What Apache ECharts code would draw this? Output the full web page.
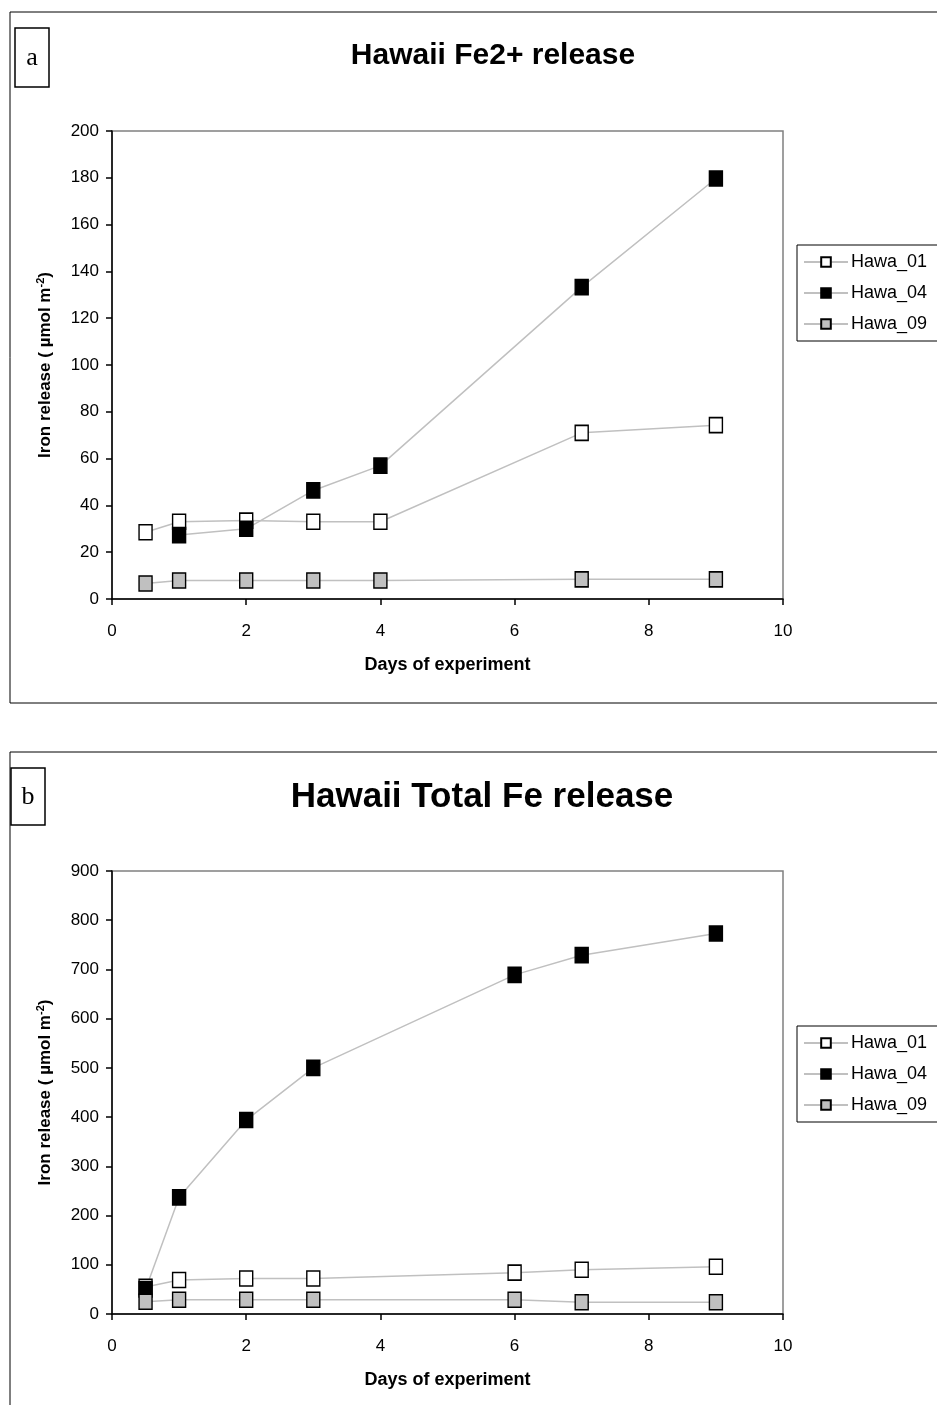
<!DOCTYPE html>
<html><head><meta charset="utf-8">
<script src="https://cdn.jsdelivr.net/npm/echarts@6/dist/echarts.min.js"></script>
<style>html,body{margin:0;padding:0;background:#fff}#c{width:937px;height:1405px}</style>
</head><body><div id="c"></div>
<script>
// Panel a: Fe2+ release
const daysA01 = [0.5, 1, 2, 3, 4, 7, 9];
const feA_Hawa01 = [28.5, 33, 33.5, 33, 33, 71, 74.3];
const daysA04 = [1, 2, 3, 4, 7, 9];
const feA_Hawa04 = [27.3, 30, 46.4, 57, 133.3, 179.7];
const daysA09 = [0.5, 1, 2, 3, 4, 7, 9];
const feA_Hawa09 = [6.6, 7.9, 7.9, 7.9, 7.9, 8.4, 8.4];
// Panel b: Total Fe release
const daysB = [0.5, 1, 2, 3, 6, 7, 9];
const feB_Hawa01 = [55, 69, 72, 72, 84, 90, 96];
const feB_Hawa04 = [50, 237, 394, 500, 689, 729, 773];
const feB_Hawa09 = [25, 29, 29, 29, 29, 24, 24];
const seriesNames = ['Hawa_01', 'Hawa_04', 'Hawa_09'];
const titleA = 'Hawaii Fe2+ release';
const titleB = 'Hawaii Total Fe release';
const xName = 'Days of experiment';

const pairs = (xs, ys) => xs.map((x, i) => [x, ys[i]]);
const fills = {Hawa_01: '#ffffff', Hawa_04: '#000000', Hawa_09: '#c0c0c0'};
const FONT = 'Liberation Sans, Arial, sans-serif';

function mkSeries(name, data, idx) {
  return {
    name, type: 'line', data, xAxisIndex: idx, yAxisIndex: idx,
    symbol: 'rect', symbolSize: [13, 15],
    lineStyle: {color: '#c0c0c0', width: 1.5},
    itemStyle: {color: fills[name], borderColor: '#000', borderWidth: 1.5},
    emphasis: {disabled: true}, animation: false
  };
}
function mkX(gridIdx) {
  return {
    type: 'value', gridIndex: gridIdx, min: 0, max: 10, interval: 2,
    name: xName, nameLocation: 'middle', nameGap: 57,
    nameTextStyle: {fontFamily: FONT, fontWeight: 'bold', fontSize: 18, color: '#000'},
    axisLine: {show: true, lineStyle: {color: '#000', width: 1.5}},
    axisTick: {show: true, length: 6, lineStyle: {color: '#000', width: 1.5}},
    axisLabel: {fontFamily: FONT, fontSize: 17, color: '#000', margin: 24},
    splitLine: {show: false}
  };
}
function mkY(gridIdx, max, interval) {
  return {
    type: 'value', gridIndex: gridIdx, min: 0, max, interval,
    name: '{a|Iron release ( µmol m}{s|-2}{a|)}', nameLocation: 'middle', nameGap: 57, nameRotate: 90,
    nameTextStyle: {rich: {
      a: {fontFamily: FONT, fontWeight: 'bold', fontSize: 17, color: '#000'},
      s: {fontFamily: FONT, fontWeight: 'bold', fontSize: 11, color: '#000', padding: [0, 0, 9, 0]}
    }},
    axisLine: {show: true, lineStyle: {color: '#000', width: 1.5}},
    axisTick: {show: true, length: 6, lineStyle: {color: '#000', width: 1.5}},
    axisLabel: {fontFamily: FONT, fontSize: 17, color: '#000', margin: 13},
    splitLine: {show: false}
  };
}
function mkLegend(top) {
  return {
    data: seriesNames, orient: 'vertical', left: 797, top, width: 160,
    itemWidth: 44, itemHeight: 12, itemGap: 13, selectedMode: false,
    padding: [8, 30, 8, 6],
    borderColor: '#000', borderWidth: 1,
    textStyle: {fontFamily: FONT, fontSize: 18, color: '#000', padding: [0, 0, 0, -2]}
  };
}

const chart = echarts.init(document.getElementById('c'), null, {renderer: 'canvas'});
chart.setOption({
  animation: false,
  backgroundColor: '#fff',
  grid: [
    {left: 112, top: 131, width: 671, height: 468, show: true, borderColor: '#808080', borderWidth: 1.5, backgroundColor: '#fff'},
    {left: 112, top: 871, width: 671, height: 443, show: true, borderColor: '#808080', borderWidth: 1.5, backgroundColor: '#fff'}
  ],
  xAxis: [mkX(0), mkX(1)],
  yAxis: [mkY(0, 200, 20), mkY(1, 900, 100)],
  legend: [mkLegend(245), mkLegend(1026)],
  graphic: [
    {type: 'rect', z: -10, shape: {x: 10, y: 12, width: 940, height: 691}, style: {fill: null, stroke: '#000', lineWidth: 1}},
    {type: 'rect', z: -10, shape: {x: 10, y: 752, width: 940, height: 700}, style: {fill: null, stroke: '#000', lineWidth: 1}},
    {type: 'rect', shape: {x: 15, y: 28, width: 34, height: 59}, style: {fill: null, stroke: '#000', lineWidth: 1.5}},
    {type: 'text', x: 32, y: 58, style: {text: 'a', font: '26px "Liberation Serif", serif', fill: '#000', align: 'center', verticalAlign: 'middle'}},
    {type: 'rect', shape: {x: 11, y: 768, width: 34, height: 57}, style: {fill: null, stroke: '#000', lineWidth: 1.5}},
    {type: 'text', x: 28, y: 797, style: {text: 'b', font: '26px "Liberation Serif", serif', fill: '#000', align: 'center', verticalAlign: 'middle'}},
    {type: 'text', x: 493, y: 56, style: {text: titleA, font: 'bold 30px "Liberation Sans", Arial, sans-serif', fill: '#000', align: 'center', verticalAlign: 'middle'}},
    {type: 'text', x: 482, y: 797, style: {text: titleB, font: 'bold 35px "Liberation Sans", Arial, sans-serif', fill: '#000', align: 'center', verticalAlign: 'middle'}}
  ],
  series: [
    mkSeries('Hawa_01', pairs(daysA01, feA_Hawa01), 0),
    mkSeries('Hawa_04', pairs(daysA04, feA_Hawa04), 0),
    mkSeries('Hawa_09', pairs(daysA09, feA_Hawa09), 0),
    mkSeries('Hawa_01', pairs(daysB, feB_Hawa01), 1),
    mkSeries('Hawa_04', pairs(daysB, feB_Hawa04), 1),
    mkSeries('Hawa_09', pairs(daysB, feB_Hawa09), 1)
  ]
});
</script></body></html>
